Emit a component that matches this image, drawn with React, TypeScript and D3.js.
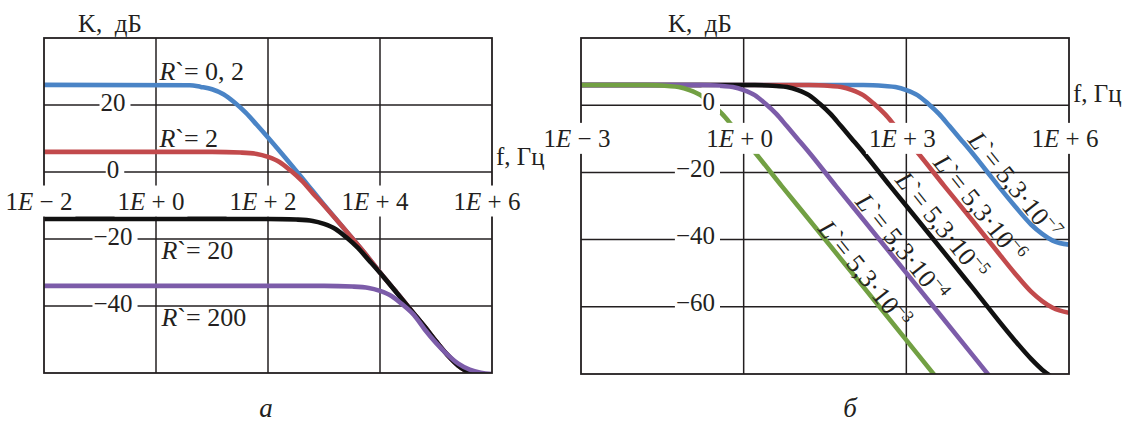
import React, { useEffect, useRef } from "react";
import * as d3 from "d3";

type Pt = [number, number]; // [f, Hz ; K, dB]

const W = 1132;
const H = 433;
const INK = "#231f20";
const FONT = '"Liberation Serif", "Times New Roman", serif';

// ---------- Panel "а": K(f) for R` = 0,2 ... 200 ----------
const fDomainA: [number, number] = [1e-2, 1e6];
const kDomainA: [number, number] = [-60, 40];
const fTicksA = [1e-2, 1, 1e2, 1e4, 1e6];
const kTicksA = [20, 0, -20, -40];
const rValues = ["0, 2", "2", "20", "200"];

const kR02: Pt[] = [
  [0.01, 26], [4, 25.9], [6.3, 25.4], [10, 24.7], [16, 23.2], [25, 20.8], [40, 17.7],
  [63, 14.1], [100, 10.3], [200, 4.4], [400, -1.6], [1000, -9.8], [3200, -19.8],
  [6300, -25.7], [1e4, -30], [2e4, -36], [4e4, -42.2], [6.3e4, -46.2], [1e5, -50.5],
  [1.6e5, -54.6], [2.5e5, -57.8], [4e5, -60], [6.3e5, -61.5],
];
const kR2: Pt[] = [
  [0.01, 6], [10, 6], [32, 5.8], [63, 5.4], [100, 4.5], [160, 3], [250, 0.5],
  [400, -2.6], [630, -6.3], [1000, -10], [1600, -13.9], [3200, -19.8], [6300, -25.7],
  [1e4, -30], [2e4, -36], [4e4, -42.2], [6.3e4, -46.2], [1e5, -50.5], [1.6e5, -54.6],
  [2.5e5, -57.8], [4e5, -60], [6.3e5, -61.5],
];
const kR20: Pt[] = [
  [0.01, -14], [100, -14], [320, -14.2], [630, -14.6], [1000, -15.5], [1600, -17],
  [2500, -19.5], [4000, -22.6], [6300, -26.3], [1e4, -30.1], [2e4, -36.1], [4e4, -42.2],
  [6.3e4, -46.2], [1e5, -50.5], [1.6e5, -54.6], [2.5e5, -57.8], [4e5, -60], [6.3e5, -61.5],
];
const kR200: Pt[] = [
  [0.01, -34], [1000, -34], [3200, -34.2], [6300, -34.6], [1e4, -35.5], [1.6e4, -37],
  [2.5e4, -39.5], [4e4, -42.6], [6.3e4, -47], [1e5, -51], [1.6e5, -54.5], [2.5e5, -57.2],
  [4e5, -59], [6.3e5, -59.9], [1e6, -60.3],
];

// ---------- Panel "б": K(f) for L` = 5,3·10^-7 ... 5,3·10^-3 ----------
const fDomainB: [number, number] = [1e-3, 1e6];
const kDomainB: [number, number] = [-80, 20];
const fTicksB = [1e-3, 1, 1e3, 1e6];
const kTicksB = [0, -20, -40, -60];
const lExponents = ["−7", "−6", "−5", "−4", "−3"];

const kL7: Pt[] = [
  [0.001, 6], [160, 6], [400, 5.7], [630, 5.4], [1000, 4.5], [1600, 3], [2500, 0.5],
  [4000, -2.6], [6300, -6.3], [1e4, -10.1], [1.6e4, -14], [3.2e4, -20.1], [5e4, -24.1],
  [1e5, -30], [2e5, -35.5], [3.2e5, -38.3], [5e5, -40.3], [1e6, -41.5],
];
const kL6: Pt[] = [
  [0.001, 6], [16, 6], [40, 5.7], [63, 5.4], [100, 4.5], [160, 3], [250, 0.5],
  [400, -2.6], [630, -6.3], [1000, -10.1], [1600, -14], [5000, -24], [1.6e4, -34],
  [5e4, -44], [1e5, -50], [2e5, -55.5], [3.2e5, -58.3], [5e5, -60.3], [1e6, -61.8],
];
const kL5: Pt[] = [
  [0.001, 6], [1.6, 6], [4, 5.7], [6.3, 5.4], [10, 4.5], [16, 3], [25, 0.5], [40, -2.6],
  [63, -6.3], [100, -10.1], [160, -14], [500, -24], [1600, -34], [1.6e4, -54],
  [1e5, -70], [2e5, -75.5], [3.2e5, -78.7], [5e5, -81], [1e6, -83],
];
const kL4: Pt[] = [
  [0.001, 6], [0.16, 6], [0.4, 5.7], [0.63, 5.4], [1, 4.5], [1.6, 3], [2.5, 0.5],
  [4, -2.6], [6.3, -6.3], [10, -10.1], [16, -14], [50, -24], [160, -34], [1600, -54],
  [1.6e4, -74], [4e4, -82],
];
const kL3: Pt[] = [
  [0.001, 6], [0.016, 6], [0.04, 5.7], [0.063, 5.4], [0.1, 4.5], [0.16, 3], [0.25, 0.5],
  [0.4, -2.6], [0.63, -6.3], [1, -10.1], [1.6, -14], [5, -24], [16, -34], [160, -54],
  [1600, -74], [4000, -82],
];

const BLUE = "#4a84c6";
const RED = "#c24a4c";
const BLACK = "#111111";
const PURPLE = "#7c5ca9";
const GREEN = "#72a043";

interface Series {
  color: string;
  points: Pt[];
  label: string;
  at: Pt; // start of the curve label (baseline), in data units
}

interface Panel {
  id: string;
  left: number;
  right: number;
  top: number;
  bottom: number;
  fDomain: [number, number];
  kDomain: [number, number];
  fTicks: number[];
  kTicks: number[];
  series: Series[];
  xLabelK: number;
  xLabelDx: number;
  yLabelX: number;
  yLabelAnchor: string;
  yLabelDy: number;
  titleX: number;
  unitX: number;
  unitY: number;
  symbol: string;
  rotated: boolean;
}

const panelA: Panel = {
  id: "a",
  left: 44,
  right: 492,
  top: 38,
  bottom: 373,
  fDomain: fDomainA,
  kDomain: kDomainA,
  fTicks: fTicksA,
  kTicks: kTicksA,
  series: [
    { color: BLUE, points: kR02, label: rValues[0], at: [1.15, 27.4] },
    { color: RED, points: kR2, label: rValues[1], at: [1.15, 7.4] },
    { color: BLACK, points: kR20, label: rValues[2], at: [1.25, -26] },
    { color: PURPLE, points: kR200, label: rValues[3], at: [1.25, -46] },
  ],
  xLabelK: -11.2,
  xLabelDx: -5,
  yLabelX: 113,
  yLabelAnchor: "middle",
  yLabelDy: 5.5,
  titleX: 78,
  unitX: 496,
  unitY: 165,
  symbol: "R",
  rotated: false,
};

const panelB: Panel = {
  id: "b",
  left: 581,
  right: 1069,
  top: 38,
  bottom: 374,
  fDomain: fDomainB,
  kDomain: kDomainB,
  fTicks: fTicksB,
  kTicks: kTicksB,
  series: [
    { color: BLUE, points: kL7, label: lExponents[0], at: [1.32e4, -10.5] },
    { color: RED, points: kL6, label: lExponents[1], at: [3000, -17.3] },
    { color: BLACK, points: kL5, label: lExponents[2], at: [600, -22.4] },
    { color: PURPLE, points: kL4, label: lExponents[3], at: [110, -28.9] },
    { color: GREEN, points: kL3, label: lExponents[4], at: [22.6, -36.9] },
  ],
  xLabelK: -12.4,
  xLabelDx: -4,
  yLabelX: 715,
  yLabelAnchor: "end",
  yLabelDy: 4.5,
  titleX: 668,
  unitX: 1073,
  unitY: 102,
  symbol: "L",
  rotated: true,
};

type G = d3.Selection<SVGGElement, unknown, null, undefined>;

function boxed(layer: G, t: d3.Selection<SVGTextElement, unknown, null, undefined>, padL: number, padR: number, padT: number, padB: number) {
  const b = (t.node() as SVGTextElement).getBBox();
  layer
    .insert("rect", () => t.node() as SVGTextElement)
    .attr("x", b.x - padL)
    .attr("y", b.y - padT)
    .attr("width", b.width + padL + padR)
    .attr("height", b.height + padT + padB)
    .attr("fill", "#ffffff");
}

function drawPanel(svg: d3.Selection<SVGSVGElement, unknown, null, undefined>, p: Panel) {
  const x = d3.scaleLog().domain(p.fDomain).range([p.left, p.right]);
  const y = d3.scaleLinear().domain(p.kDomain).range([p.bottom, p.top]);
  const g = svg.append("g") as unknown as G;
  const clipId = `clip-${p.id}`;

  g.append("clipPath")
    .attr("id", clipId)
    .append("rect")
    .attr("x", p.left)
    .attr("y", p.top)
    .attr("width", p.right - p.left)
    .attr("height", p.bottom - p.top);

  // grid
  const grid = g.append("g").attr("stroke", INK).attr("stroke-width", 1.5);
  grid
    .append("g")
    .selectAll("line")
    .data(p.fTicks.slice(1, -1))
    .join("line")
    .attr("x1", (d) => x(d))
    .attr("x2", (d) => x(d))
    .attr("y1", p.top)
    .attr("y2", p.bottom);
  grid
    .append("g")
    .selectAll("line")
    .data(p.kTicks)
    .join("line")
    .attr("x1", p.left)
    .attr("x2", p.right)
    .attr("y1", (d) => y(d))
    .attr("y2", (d) => y(d));

  // curves
  const line = d3
    .line<Pt>()
    .x((d) => x(d[0]))
    .y((d) => y(d[1]))
    .curve(d3.curveMonotoneX);
  g.append("g")
    .attr("clip-path", `url(#${clipId})`)
    .attr("fill", "none")
    .selectAll("path")
    .data(p.series)
    .join("path")
    .attr("d", (s) => line(s.points))
    .attr("stroke", (s) => s.color)
    .attr("stroke-width", 4.6)
    .attr("stroke-linejoin", "round");

  // frame
  g.append("rect")
    .attr("x", p.left)
    .attr("y", p.top)
    .attr("width", p.right - p.left)
    .attr("height", p.bottom - p.top)
    .attr("fill", "none")
    .attr("stroke", INK)
    .attr("stroke-width", 1.8);

  const text = g
    .append("g")
    .attr("font-family", FONT)
    .attr("font-size", 25)
    .attr("fill", INK) as unknown as G;

  // frequency tick labels, 1E ± n
  p.fTicks.forEach((f) => {
    const e = Math.round(Math.log10(f));
    const t = text
      .append("text")
      .attr("x", x(f) + p.xLabelDx)
      .attr("y", y(p.xLabelK))
      .attr("text-anchor", "middle")
      .style("white-space", "pre");
    t.append("tspan").text("1");
    t.append("tspan").attr("font-style", "italic").text("E");
    t.append("tspan").text(`${e < 0 ? " − " : " + "}${Math.abs(e)}`);
    boxed(text, t as any, 3, 3, 2, 2);
  });

  // gain tick labels
  p.kTicks.forEach((k) => {
    const t = text
      .append("text")
      .attr("x", p.yLabelX)
      .attr("y", y(k) + p.yLabelDy)
      .attr("text-anchor", p.yLabelAnchor)
      .text(k < 0 ? `−${-k}` : `${k}`);
    boxed(text, t as any, 1, 5, 0, 0);
  });

  // axis titles
  text.append("text").attr("x", p.titleX).attr("y", 31.5).style("white-space", "pre").text("K,  дБ");
  text.append("text").attr("x", p.unitX).attr("y", p.unitY).style("white-space", "pre").text("f, Гц");

  // curve labels
  const angle = (Math.atan2(y(-20) - y(0), x(10) - x(1)) * 180) / Math.PI;
  p.series.forEach((s) => {
    const t = text
      .append("text")
      .attr("font-size", 26)
      .style("white-space", "pre")
      .attr(
        "transform",
        p.rotated
          ? `translate(${x(s.at[0])},${y(s.at[1])}) rotate(${angle})`
          : `translate(${x(s.at[0])},${y(s.at[1])})`
      );
    t.append("tspan").attr("font-style", "italic").text(p.symbol);
    if (p.rotated) {
      t.append("tspan").text("`= 5,3·10");
      t.append("tspan").attr("font-size", 17).attr("dy", -10).text(s.label);
    } else {
      t.append("tspan").text(`\`= ${s.label}`);
    }
  });
}

export default function App() {
  const ref = useRef<SVGSVGElement>(null);

  useEffect(() => {
    if (!ref.current) return;
    const svg = d3.select(ref.current);
    svg.selectAll("*").remove();
    svg.append("rect").attr("width", W).attr("height", H).attr("fill", "#ffffff");
    drawPanel(svg, panelA);
    drawPanel(svg, panelB);
    const cap = svg
      .append("g")
      .attr("font-family", FONT)
      .attr("font-size", 27)
      .attr("font-style", "italic")
      .attr("fill", INK)
      .attr("text-anchor", "middle");
    cap.append("text").attr("x", 266).attr("y", 417).text("а");
    cap.append("text").attr("x", 850).attr("y", 417).text("б");
  }, []);

  return (
    <svg
      ref={ref}
      width={W}
      height={H}
      viewBox={`0 0 ${W} ${H}`}
      style={{ position: "absolute", left: 0, top: 0, display: "block" }}
    />
  );
}
